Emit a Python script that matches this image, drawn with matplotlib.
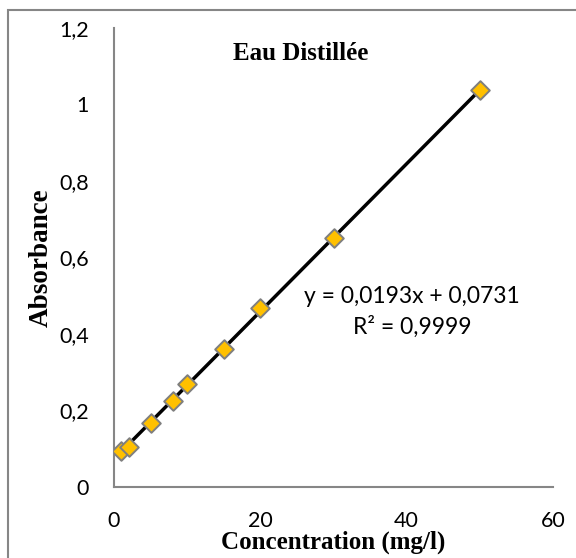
import numpy as np
import matplotlib.pyplot as plt
from matplotlib.patches import Rectangle

# Data
concentration = [1, 2, 5, 8, 10, 15, 20, 30, 50]
absorbance = [0.093, 0.105, 0.168, 0.226, 0.268, 0.362, 0.468, 0.652, 1.037]
slope = 0.0193
intercept = 0.0731
equation = "y = 0,0193x + 0,0731"
r2_text = "R² = 0,9999"

x_ticks = [0, 20, 40, 60]
y_ticks = [0, 0.2, 0.4, 0.6, 0.8, 1.0, 1.2]
y_labels = ["0", "0,2", "0,4", "0,6", "0,8", "1", "1,2"]

fig = plt.figure(figsize=(5.76, 5.58), dpi=100)
ax = fig.add_axes([114 / 576, 71 / 558, 439 / 576, 459 / 558])

# trend line over the data range
xs = np.array([min(concentration), max(concentration)])
ax.plot(xs, slope * xs + intercept, color='black', lw=2.5, zorder=2)
ax.scatter(concentration, absorbance, marker='D', s=90, color='#FFC000',
           edgecolor='#7F7F7F', linewidth=1.4, zorder=3)

ax.set_xlim(0, 60)
ax.set_ylim(0, 1.2)
ax.set_xticks(x_ticks)
ax.set_yticks(y_ticks)
ax.set_yticklabels(y_labels)
ax.tick_params(length=0, labelsize=15.5)
ax.tick_params(axis='x', pad=17)
ax.tick_params(axis='y', pad=18)
for lab in ax.get_xticklabels() + ax.get_yticklabels():
    lab.set_family('Lato')

for s in ['top', 'right']:
    ax.spines[s].set_visible(False)
for s in ['left', 'bottom']:
    ax.spines[s].set_color('#868686')
    ax.spines[s].set_linewidth(1.5)

ax.set_xlabel('Concentration (mg/l)', family='Liberation Serif', fontweight='bold',
              fontsize=18, labelpad=0)
ax.set_ylabel('Absorbance', family='Liberation Serif', fontweight='bold',
              fontsize=19.5, labelpad=4)
ax.text(0.425, 0.97, 'Eau Distillée', transform=ax.transAxes, ha='center', va='top',
        family='Liberation Serif', fontweight='bold', fontsize=18)

ax.text(0.679, 0.414, equation, transform=ax.transAxes, ha='center', va='center',
        family='Lato', fontsize=16.5)
ax.text(0.679, 0.349, r2_text, transform=ax.transAxes, ha='center', va='center',
        family='Lato', fontsize=16.5)

# outer chart border
fig.patches.append(Rectangle((8 / 576, -0.05), 1.2, 1.0 - 10 / 558 + 0.05,
                             transform=fig.transFigure, fill=False,
                             edgecolor='#868686', linewidth=1.5))

fig.savefig('out.png', dpi=100)
